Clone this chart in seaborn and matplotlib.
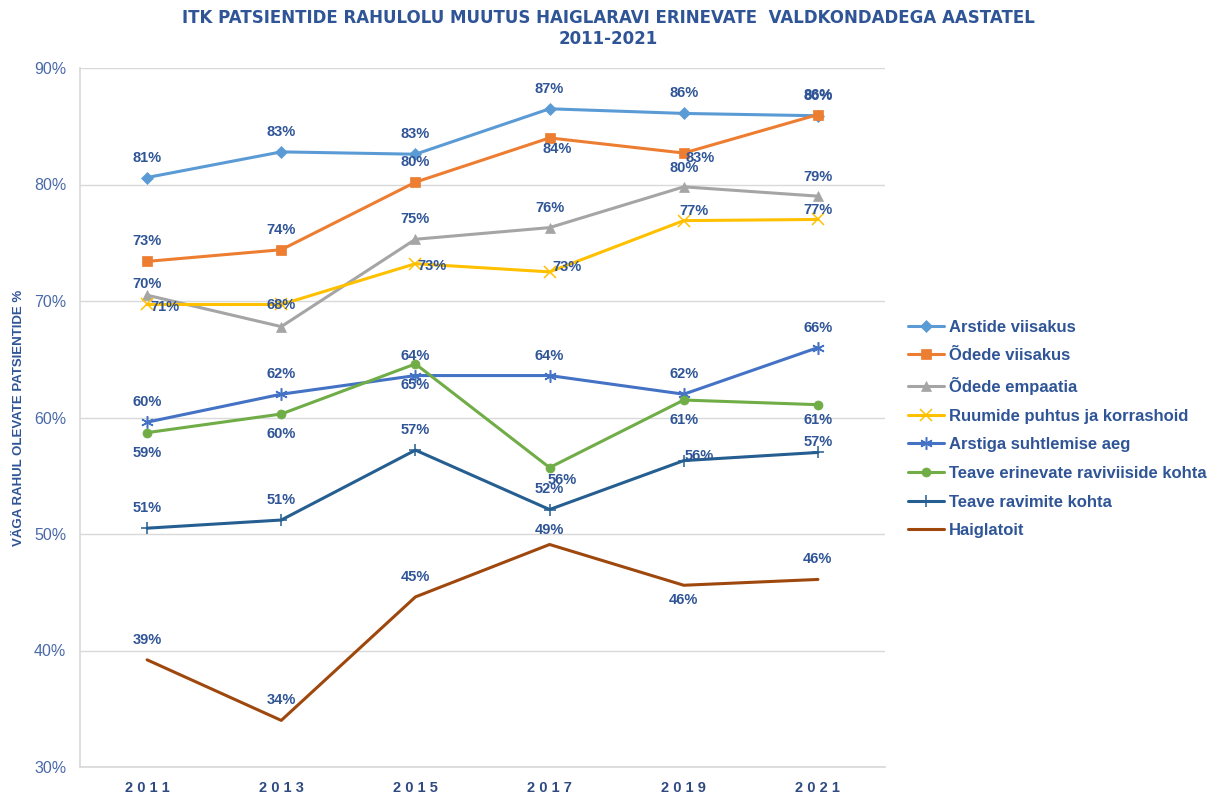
import matplotlib
matplotlib.use("Agg")
import matplotlib.pyplot as plt
import seaborn as sns
import pandas as pd

years = ["2011", "2013", "2015", "2017", "2019", "2021"]

arstide_viisakus = [80.6, 82.8, 82.6, 86.5, 86.1, 85.9]
odede_viisakus = [73.4, 74.4, 80.2, 84.0, 82.7, 86.0]
odede_empaatia = [70.5, 67.8, 75.3, 76.3, 79.8, 79.0]
ruumide_puhtus = [69.7, 69.7, 73.2, 72.5, 76.9, 77.0]
arstiga_aeg = [59.6, 62.0, 63.6, 63.6, 62.0, 66.0]
teave_raviviisid = [58.7, 60.3, 64.6, 55.7, 61.5, 61.1]
teave_ravimid = [50.5, 51.2, 57.2, 52.1, 56.3, 57.0]
haiglatoit = [39.2, 34.0, 44.6, 49.1, 45.6, 46.1]

# andmesildid nagu joonisel
lbl_arstide = ["81%", "83%", "83%", "87%", "86%", "86%"]
lbl_odede = ["73%", "74%", "80%", "84%", "83%", "86%"]
lbl_empaatia = ["70%", "68%", "75%", "76%", "80%", "79%"]
lbl_ruumide = ["71%", "", "73%", "73%", "77%", "77%"]
lbl_arstiga = ["60%", "62%", "64%", "64%", "62%", "66%"]
lbl_raviviisid = ["59%", "60%", "65%", "56%", "61%", "61%"]
lbl_ravimid = ["51%", "51%", "57%", "52%", "56%", "57%"]
lbl_toit = ["39%", "34%", "45%", "49%", "46%", "46%"]

series = [
    ("Arstide viisakus", arstide_viisakus, lbl_arstide, "#5B9BD5", "D",
     [(0, -20)] * 6),
    ("Õdede viisakus", odede_viisakus, lbl_odede, "#ED7D31", "s",
     [(0, -20), (0, -20), (0, -20), (8, 11), (16, 5), (0, -20)]),
    ("Õdede empaatia", odede_empaatia, lbl_empaatia, "#A5A5A5", "^",
     [(0, -11), (0, -22), (0, -20), (0, -20), (0, -19), (0, -19)]),
    ("Ruumide puhtus ja korrashoid", ruumide_puhtus, lbl_ruumide, "#FFC000", "x",
     [(18, 3), (0, 0), (17, 2), (17, -5), (10, -10), (0, -9)]),
    ("Arstiga suhtlemise aeg", arstiga_aeg, lbl_arstiga, "#4472C4", (6, 2, 0),
     [(0, -20)] * 6),
    ("Teave erinevate raviviiside kohta", teave_raviviisid, lbl_raviviisid, "#70AD47", "o",
     [(0, 20), (0, 20), (0, 21), (13, 12), (0, 20), (0, 15)]),
    ("Teave ravimite kohta", teave_ravimid, lbl_ravimid, "#255E91", "+",
     [(0, -20), (0, -20), (0, -20), (0, -21), (15, -5), (0, -10)]),
    ("Haiglatoit", haiglatoit, lbl_toit, "#9E480E", None,
     [(0, -20), (0, -20), (0, -20), (0, -14), (0, 15), (0, -20)]),
]

txt_col = "#2F5597"
thin = ("x", "+", (6, 2, 0))

sns.set_theme(style="white")
plt.rcParams["font.family"] = ["Liberation Sans", "DejaVu Sans"]

fig = plt.figure(figsize=(12.17, 7.98), dpi=100)
ax = fig.add_axes([80 / 1217, 31 / 798, 805 / 1217, 699 / 798])

for name, vals, lbls, col, mk, offs in series:
    df = pd.DataFrame({"aasta": years, "vaartus": vals})
    sns.lineplot(data=df, x="aasta", y="vaartus", ax=ax, color=col, lw=2.2,
                 marker=mk, markersize=9 if mk in thin else 6.5,
                 markeredgewidth=1.1 if mk in thin else 0.5,
                 markeredgecolor=col, label=name, sort=False)
    for i, (v, t) in enumerate(zip(vals, lbls)):
        if t:
            ax.annotate(t, (i, v), xytext=(offs[i][0], -offs[i][1]),
                        textcoords="offset pixels", ha="center", va="center",
                        fontsize=10.5, fontweight="bold", color=txt_col)

ax.set_xlim(-0.5, 5.5)
ax.set_ylim(30, 90)
ax.set_yticks(range(30, 91, 10))
ax.set_yticklabels([f"{v}%" for v in range(30, 91, 10)], fontsize=11.5, color="#4A69A8")
ax.set_xticks(range(len(years)))
ax.set_xticklabels([" ".join(y) for y in years], fontsize=10.5, fontweight="bold", color="#2F4A80")
ax.tick_params(axis="both", length=0, pad=10)
ax.yaxis.grid(True, color="#D9D9D9", lw=1)
for s in ["top", "right"]:
    ax.spines[s].set_visible(False)
ax.spines["left"].set_color("#D9D9D9")
ax.spines["bottom"].set_color("#D9D9D9")
ax.set_xlabel("")
ax.set_ylabel("VÄGA RAHUL OLEVATE PATSIENTIDE %", fontsize=9.5, fontweight="bold",
              color=txt_col)
ax.yaxis.set_label_coords(-0.068, 0.5)

handles, labels = ax.get_legend_handles_labels()
if ax.get_legend():
    ax.get_legend().remove()
leg = fig.legend(handles, labels, loc="upper left", bbox_to_anchor=(901 / 1217, 1 - 313 / 798),
                 frameon=False, fontsize=12, handlelength=2.2, handletextpad=0.3,
                 labelspacing=0.82, borderaxespad=0)
for t in leg.get_texts():
    t.set_color(txt_col)
    t.set_fontweight("bold")

fig.text(0.5, 1 - 18 / 798, "ITK PATSIENTIDE RAHULOLU MUUTUS HAIGLARAVI ERINEVATE  VALDKONDADEGA AASTATEL",
         ha="center", va="center", fontsize=12, fontweight="bold", color=txt_col,
         family=["DejaVu Sans"])
fig.text(0.5, 1 - 39 / 798, "2011-2021", ha="center", va="center", fontsize=12,
         fontweight="bold", color=txt_col, family=["DejaVu Sans"])

fig.savefig("out.png", dpi=100)
